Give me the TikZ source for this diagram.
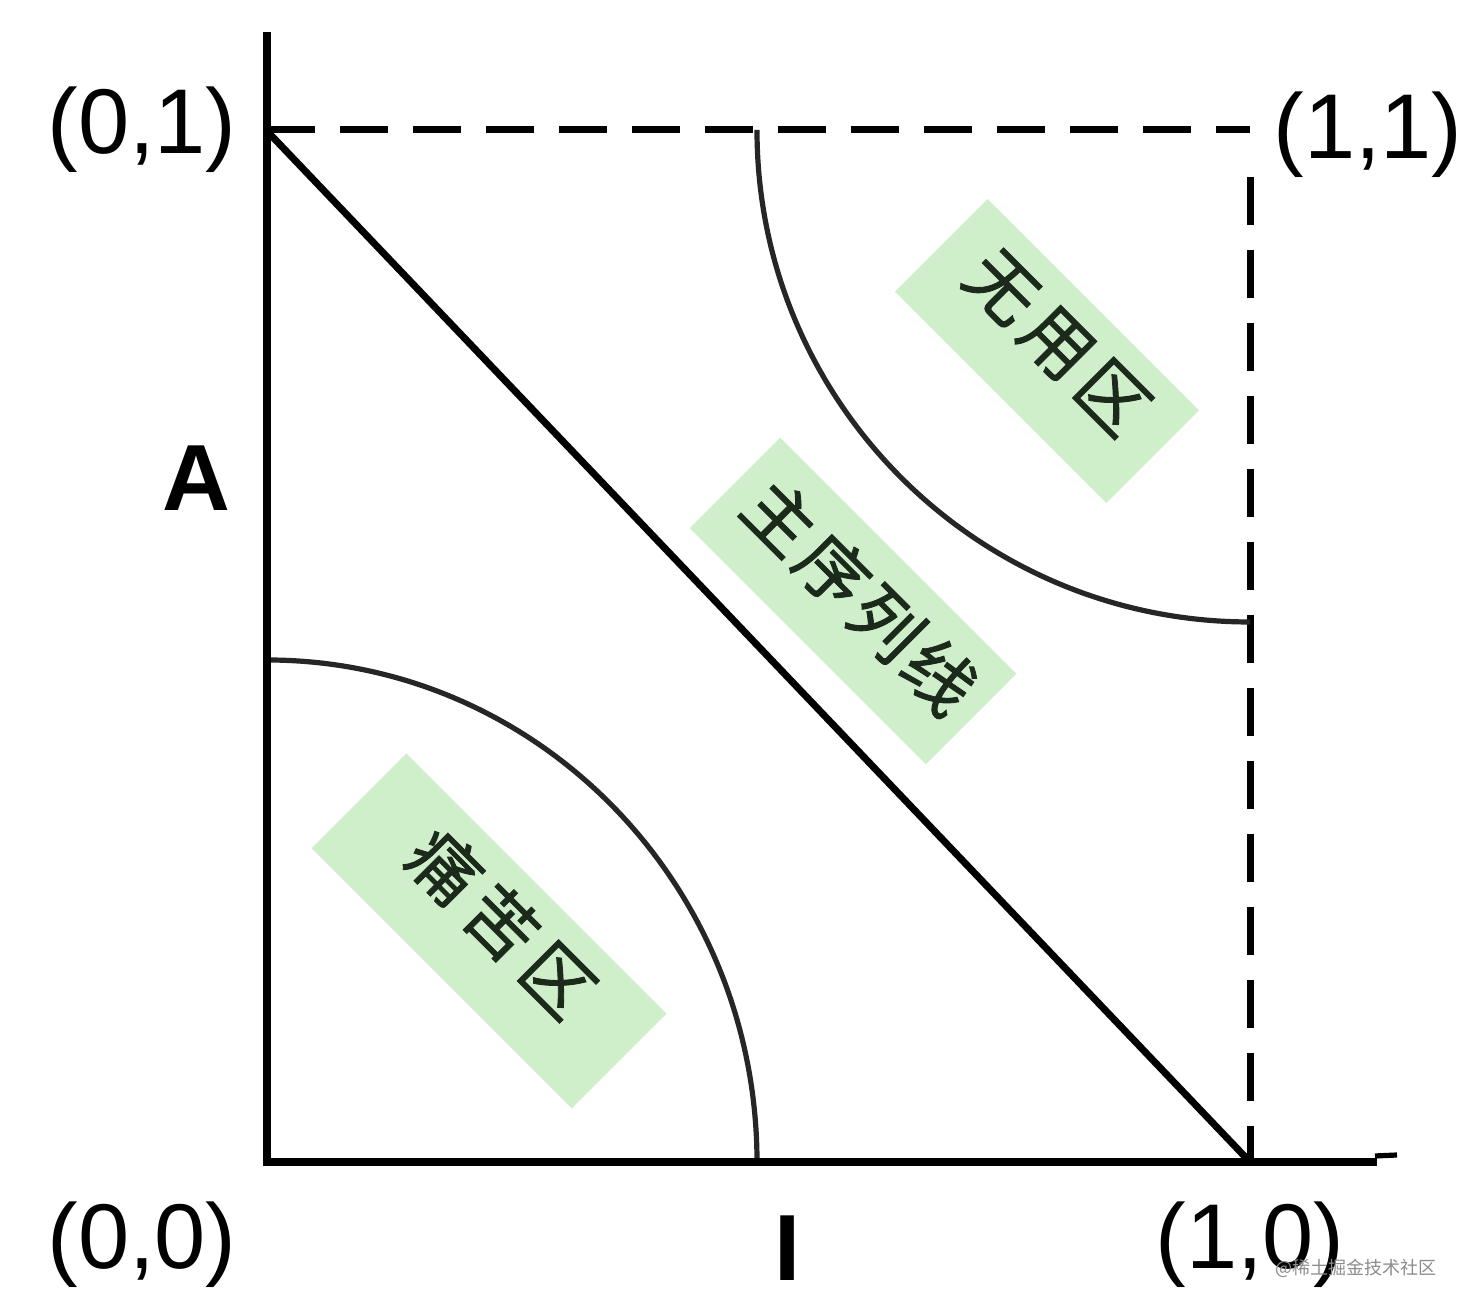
\documentclass[tikz,border=0pt]{standalone}
\usepackage{fontspec}
\setmainfont{Liberation Sans}
\newfontfamily\cjk{Noto Sans CJK SC}
\newfontfamily\cjkzone[FakeBold=1.2]{Noto Sans CJK SC}
\definecolor{zonegreen}{HTML}{CFEFCB}
\definecolor{zoneink}{HTML}{1B2A1B}
\begin{document}
\begin{tikzpicture}[x=0.5pt,y=0.5pt,
  axisline/.style={line width=4pt, line join=miter},
  dashline/.style={line width=3.5pt, dash pattern=on 24pt off 12.5pt},
  diagline/.style={line width=3.5pt},
  curveline/.style={line width=2.6pt, draw=black!85},
  zonebox/.style={fill=zonegreen, draw=none, rotate=-45, inner sep=0pt},
  zonetext/.style={rotate=-45, font=\cjkzone\fontsize{35}{35}\selectfont, text=zoneink, inner sep=0pt},
  coordlabel/.style={font=\fontsize{46}{46}\selectfont, inner sep=0pt},
  boldlabel/.style={font=\bfseries\fontsize{47}{47}\selectfont, inner sep=0pt},
  marklabel/.style={font=\cjk\fontsize{9}{9}\selectfont, text=black!45, inner sep=0pt}
]
\useasboundingbox (0,0) rectangle (1468,1310);
\fill[white] (0,0) rectangle (1468,1310);

% coordinates
\coordinate (O) at (267,148);
\coordinate (ytop) at (267,1278);
\coordinate (p01) at (267,1179);
\coordinate (p11) at (1250,1180);
\coordinate (p10) at (1250,148);
\coordinate (xend) at (1377,148);
\coordinate (stubA) at (1375,154);
\coordinate (stubB) at (1397,155);
\coordinate (dashtop) at (267,1180);
\coordinate (vdashtop) at (1250,1133);
\coordinate (lowarcstart) at (267,650);
\coordinate (uparcstart) at (757,1180);

% green zone boxes
\node[zonebox, minimum width=149.5pt, minimum height=65.5pt] (b1) at (1047,959) {};
\node[zonebox, minimum width=167pt, minimum height=64pt] (b2) at (853,709) {};
\node[zonebox, minimum width=184pt, minimum height=67pt] (b3) at (489,379) {};

% dashed frame
\draw[dashline] (dashtop) -- (p11);
\draw[dashline] (vdashtop) -- (p10);

% arcs
\draw[curveline] (lowarcstart) arc[start angle=90, end angle=0, x radius=490, y radius=502];
\draw[curveline] (uparcstart) arc[start angle=180, end angle=270, x radius=493, y radius=492];

% diagonal main sequence
\draw[diagline] (p01) -- (p10);

% axes
\draw[axisline] (ytop) -- (O) -- (xend);
\draw[line width=2.6pt] (stubA) -- (stubB);

% zone texts
\node[zonetext] (t1) at (1057,967) {无\hspace{4pt}用\hspace{4pt}区};
\node[zonetext] (t2) at (860,713) {主\hspace{2.5pt}序\hspace{2.5pt}列\hspace{2.5pt}线};
\node[zonetext] (t3) at (502,387) {痛\hspace{5pt}苦\hspace{5pt}区};

% labels
\node[coordlabel] (l01) at (142,1180) {(0,1)};
\node[coordlabel] (l11) at (1368,1175) {(1,1)};
\node[coordlabel] (l00) at (142,65) {(0,0)};
\node[coordlabel] (l10) at (1250,65) {(1,0)};
\node[boldlabel] (lA) at (196,832) {A};
\node[boldlabel] (lI) at (788,62) {I};
\node[marklabel] (wm) at (1356,42) {@稀土掘金技术社区};
\end{tikzpicture}
\end{document}
